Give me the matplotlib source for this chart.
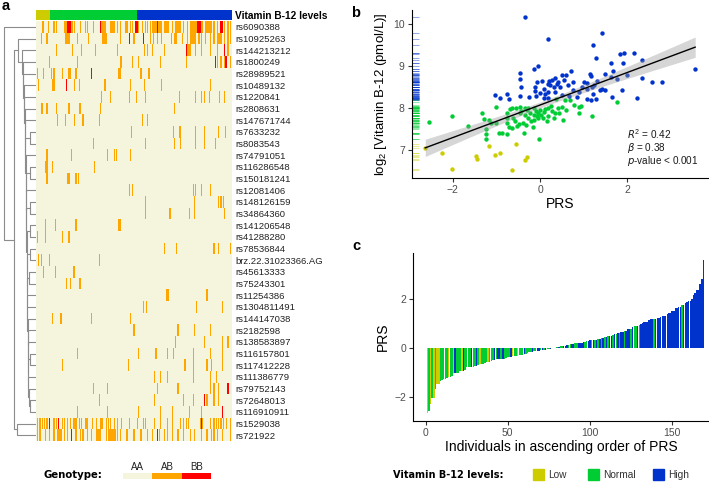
import numpy as np
import matplotlib
matplotlib.use("Agg")
import matplotlib.pyplot as plt
from matplotlib.colors import ListedColormap
from matplotlib.patches import Rectangle

plt.rcParams['font.family'] = ['Liberation Sans', 'DejaVu Sans']
plt.rcParams['mathtext.default'] = 'regular'

# ---- data -------------------------------------------------------------
# panel b: PRS vs log2 vitamin B-12, per group
prs_low = [-2.63, -2.25, -2.01, -1.46, -1.45, -1.18, -1.03, -0.92, -0.65, -0.55, -0.34, -0.31]
b12_low = [7.04, 6.92, 6.55, 6.86, 6.78, 7.10, 6.87, 6.92, 6.52, 7.14, 6.77, 6.84]

prs_normal = [-2.54, -2.02, -1.66, -1.33, -1.29, -1.17, -1.24, -1.24, -1.23, -1.12,
              -1.00, -1.02, -0.93, -0.88, -0.76, -0.76, -0.76, -0.75, -0.72, -0.65,
              -0.64, -0.61, -0.55, -0.52, -0.46, -0.43, -0.39, -0.37, -0.35, -0.34,
              -0.33, -0.27, -0.27, -0.23, -0.17, -0.15, -0.14, -0.14, -0.09, -0.04,
              -0.04, -0.02, 0.00, 0.02, 0.06, 0.19, 0.19, 0.27, 0.32, 0.34,
              0.37, 0.40, 0.44, 0.50, 0.53, 0.58, 0.69, 0.78, 0.88, 0.88,
              0.94, 1.18, 1.75, -0.70, -0.58, -0.48, -0.30, -0.20, -0.08, 0.08,
              0.12, 0.25, 0.15, -0.45, 0.60]
b12_normal = [7.66, 7.82, 7.58, 7.87, 7.74, 7.72, 7.49, 7.37, 7.25, 7.64,
              8.03, 7.64, 7.41, 7.41, 7.87, 7.76, 7.39, 7.64, 7.55, 8.00,
              7.52, 7.76, 8.00, 7.58, 8.03, 7.92, 7.64, 7.40, 8.01, 7.83,
              7.60, 7.75, 8.00, 7.87, 7.55, 7.72, 8.00, 7.83, 7.92, 7.87,
              7.76, 7.25, 7.95, 7.83, 7.76, 7.80, 8.01, 7.92, 7.76, 7.89,
              8.21, 8.01, 7.87, 8.03, 7.71, 8.19, 8.19, 8.08, 8.03, 7.88,
              8.04, 7.82, 8.15, 7.98, 7.70, 7.62, 7.95, 7.68, 7.80, 7.90,
              7.98, 8.05, 7.70, 7.88, 7.95]

prs_high = [-0.35, 0.19, 1.41, 1.22, 1.28, 1.83, 1.91, 2.15, 2.33, 1.63,
            1.89, 3.55, -0.04, -0.15, -0.46, -0.47, -0.44, -0.76, -1.03, -0.92,
            -0.72, -0.46, -0.11, -0.11, -0.09, -0.08, 0.04, 0.08, 0.11, 0.17,
            0.18, 0.19, 0.21, 0.23, 0.28, 0.31, 0.33, 0.34, 0.38, 0.42,
            0.46, 0.50, 0.50, 0.59, 0.64, 0.66, 0.70, 0.75, 0.76, 0.88,
            0.95, 1.01, 1.07, 1.07, 1.07, 1.14, 1.16, 1.16, 1.18, 1.22,
            1.24, 1.28, 1.31, 1.36, 1.41, 1.49, 1.49, 1.62, 1.64, 1.66,
            1.75, 1.87, 1.98, 2.21, 2.33, 2.57, 2.78, -0.25, 0.00, 0.08,
            0.55, 0.84]
b12_high = [10.16, 9.64, 9.79, 9.51, 9.18, 9.28, 9.30, 9.30, 9.14, 9.08,
            9.08, 8.94, 8.99, 8.94, 8.84, 8.69, 8.50, 8.34, 8.30, 8.23,
            8.21, 8.29, 8.49, 8.41, 8.28, 8.62, 8.65, 8.46, 8.34, 8.58,
            8.38, 8.24, 8.65, 8.54, 8.66, 8.50, 8.72, 8.38, 8.58, 8.62,
            8.49, 8.32, 8.78, 8.78, 8.54, 8.28, 8.89, 8.62, 8.42, 8.38,
            8.50, 8.62, 8.60, 8.46, 8.21, 8.81, 8.77, 8.20, 8.49, 8.34,
            8.54, 8.21, 8.64, 8.44, 8.46, 8.42, 8.82, 8.74, 8.26, 8.88,
            8.69, 8.42, 8.78, 8.23, 8.72, 8.61, 8.62, 8.26, 8.35, 8.25,
            8.66, 8.26]

groups = ["Low", "Normal", "High"]
group_colors = ["#CCCC00", "#00CC33", "#0033CC"]

# panel a: SNPs (row order of the clustered heatmap)
snps = ["rs6090388", "rs10925263", "rs144213212", "rs1800249", "rs28989521",
        "rs10489132", "rs1220841", "rs2808631", "rs147671744", "rs7633232",
        "rs8083543", "rs74791051", "rs116286548", "rs150181241", "rs12081406",
        "rs148126159", "rs34864360", "rs141206548", "rs41288280", "rs78536844",
        "brz.22.31023366.AG", "rs45613333", "rs75243301", "rs11254386", "rs1304811491",
        "rs144147038", "rs2182598", "rs138583897", "rs116157801", "rs117412228",
        "rs111386779", "rs79752143", "rs72648013", "rs116910911", "rs1529038",
        "rs721922"]

# non-AA genotypes per SNP, by individual (column) index; "r" marks BB, otherwise AB
genotype_spec = [
    "5 6 10 15 17 24-31 27-29r 33 38 42 44 49 55-59 55r 64-67 70 72 77 78 81 83 85-87r 88 91 94 96 98 "
    "100-108 104r 110-113 114 117 120-124 127 130 133-143 139-141r 146-151 153 156 159-160r 162 165 167",
    "4 9 25-28 35 45 57-60 72 80r 84 92r 98 101 104 108 116 119-121 126 130 133-137 140 142 146 150 153 "
    "156-159 162 165 167",
    "17 31 39 51 70 93 96 100 110 129r 130-133 137 142 150 156 162r 165",
    "11 35 72-73 83 88 107 129 154r 156 159 162 163-164r 167",
    "1 6 13 15 22 28-29 34 47r 71-72 90 97",
    "2 14-15 26r 33 37 59 81 93 108 150",
    "56 64 80 86 94 123 137 142 145 149 158 162",
    "4-5 9 17 28 37-38 55 119",
    "18 25 33 40 54 91 96",
    "82 118 123 124 137 145 157 163",
    "49 94 119 124 137 145 154",
    "9 30 61 67 69 81",
    "8-9 14 50",
    "9 27-28 34 36",
    "80 83 135 137 142 150",
    "94 136 157 159 161",
    "94 115 132 136 162",
    "8 16 34 71 72",
    "1 8 22 28",
    "110 121 153 157 167",
    "2 4 11 54",
    "6 16 32-33",
    "26 29 37-38",
    "112-114 147",
    "92 95 138 160",
    "14 21 47 81",
    "84 122 136 150",
    "120 145 160 165",
    "35 88 103 113 118 135 150 160",
    "22 79 128 135 147 151 160",
    "102 107 113 135 150 155",
    "49 61 104 122 150 153 157 165r",
    "54 102 127 135 145r 147 153 157",
    "35 61 88 107 117 132 142 160r",
    "1 3 5 7 9 11r 15 17 19r 22 24 27 29 32-34 37 39 42-44 48 52 55-57 60 62 64 67 70 73 80 87 92 94 "
    "102 107 113 117 124 127 129 131 141-143 142r 150 153 155 157 159 161 164 167",
    "1 3 8 11 15 18-21 24 27 30r 34 38 40 44 47 52-55 60 62-68 70 72 78 84 90 96 100 104r 106 110 113 "
    "117 122 127 133 136 142 147 151 153 156 160 167",
]

# row dendrogram: (child a, child b, merge height); new clusters get ids 36, 37, ...
merges = [
    (9, 10, 6.0), (12, 13, 6.0), (15, 16, 6.0), (17, 18, 6.5), (19, 20, 6.5),
    (21, 22, 7.0), (28, 29, 6.0), (32, 33, 6.0), (31, 43, 7.4), (30, 44, 7.6),
    (42, 45, 7.8), (27, 46, 8.0), (26, 47, 8.2), (25, 48, 8.4), (24, 49, 8.6),
    (23, 50, 8.8), (41, 51, 9.0), (40, 52, 9.2), (39, 53, 9.4), (38, 54, 9.6),
    (14, 55, 9.8), (37, 56, 10.0), (11, 57, 10.3), (36, 58, 10.6), (8, 59, 11.0),
    (7, 60, 11.4), (6, 61, 11.8), (5, 62, 12.2), (4, 63, 12.6), (3, 64, 13.0),
    (2, 65, 14.5), (1, 66, 17.7), (34, 35, 19.3), (67, 68, 22.0), (0, 69, 32.0),
]

genotypes = ["AA", "AB", "BB"]
genotype_colors = ["#F5F4DC", "#FFA500", "#FF0000"]

# ---- layout helpers ---------------------------------------------------
W, H = 709, 482
fig = plt.figure(figsize=(W / 100, H / 100), dpi=100)


def box(x0, y0, x1, y1):
    # pixel box (top-left origin) -> figure rect
    return [x0 / W, 1 - y1 / H, (x1 - x0) / W, (y1 - y0) / H]


def parse_row(spec, n):
    row = np.zeros(n, dtype=int)
    for tok in spec.split():
        val = 2 if tok.endswith("r") else 1
        tok = tok.rstrip("r")
        if "-" in tok:
            a, b = tok.split("-")
        else:
            a = b = tok
        row[int(a):min(int(b), n - 1) + 1] = val
    return row


n_low, n_normal, n_high = len(prs_low), len(prs_normal), len(prs_high)
n_ind = n_low + n_normal + n_high
geno = np.array([parse_row(s, n_ind) for s in genotype_spec])
group_code = np.array([0] * n_low + [1] * n_normal + [2] * n_high)

# ---- panel a ----------------------------------------------------------
ax_top = fig.add_axes(box(36, 10, 231.7, 20))
ax_top.imshow(group_code[None, :], cmap=ListedColormap(group_colors), vmin=0, vmax=2,
              aspect="auto", interpolation="nearest")
ax_top.set_xticks([])
ax_top.yaxis.tick_right()
ax_top.set_yticks([0])
ax_top.set_yticklabels(["Vitamin B-12 levels"], fontsize=7.3, fontweight="bold")
ax_top.tick_params(axis="y", length=0, pad=2.5)
for s in ax_top.spines.values():
    s.set_visible(False)

ax_hm = fig.add_axes(box(36, 21, 231.7, 441))
ax_hm.imshow(geno, cmap=ListedColormap(genotype_colors), vmin=0, vmax=2,
             aspect="auto", interpolation="nearest")
ax_hm.set_xticks([])
ax_hm.yaxis.tick_right()
ax_hm.set_yticks(range(len(snps)))
ax_hm.set_yticklabels(snps, fontsize=6.8, color="#222222")
ax_hm.tick_params(axis="y", length=0, pad=2.5)
for s in ax_hm.spines.values():
    s.set_visible(False)

ax_den = fig.add_axes(box(0, 21, 36, 441))
pos = {i: (i + 0.5, 0.0) for i in range(len(snps))}
for k, (a, b, h) in enumerate(merges):
    ya, ha = pos[a]
    yb, hb = pos[b]
    ax_den.plot([ha, h, h, hb], [ya, ya, yb, yb], color="#8c8c8c", lw=0.8)
    pos[len(snps) + k] = ((ya + yb) / 2, h)
ax_den.set_xlim(36, 0)
ax_den.set_ylim(len(snps), 0)
ax_den.axis("off")

# genotype legend
fig.text(43 / W, 1 - 475 / H, "Genotype:", family="DejaVu Sans", fontweight="bold",
         fontsize=7.3, va="center", ha="left")
ax_gl = fig.add_axes(box(123, 473, 211, 479))
ax_gl.imshow([[0, 1, 2]], cmap=ListedColormap(genotype_colors), vmin=0, vmax=2, aspect="auto")
ax_gl.xaxis.tick_top()
ax_gl.set_xticks(range(3))
ax_gl.set_xticklabels(genotypes, fontsize=7, color="#222222")
ax_gl.tick_params(axis="x", length=0, pad=1)
ax_gl.set_yticks([])
for s in ax_gl.spines.values():
    s.set_visible(False)


def style_axes(ax):
    ax.spines["top"].set_visible(False)
    ax.spines["right"].set_visible(False)
    for side in ["left", "bottom"]:
        ax.spines[side].set_linewidth(0.8)
        ax.spines[side].set_color("black")
    ax.tick_params(length=3, width=0.8, color="#333333", labelsize=7.5,
                   labelcolor="#4D4D4D", pad=2)


# ---- panel b ----------------------------------------------------------
ax_b = fig.add_axes(box(411.7, 9.75, 708.7, 177.7))
xs_groups = [prs_low, prs_normal, prs_high]
ys_groups = [b12_low, b12_normal, b12_high]
for xg, yg, c in zip(xs_groups, ys_groups, group_colors):
    ax_b.scatter(xg, yg, s=10, color=c, linewidths=0, zorder=2)
    ax_b.hlines(yg, 0, 0.025, transform=ax_b.get_yaxis_transform(), colors=c,
                lw=0.6, alpha=0.5)

x_all = np.array(prs_low + prs_normal + prs_high)
y_all = np.array(b12_low + b12_normal + b12_high)
slope, intercept = np.polyfit(x_all, y_all, 1)
xf = np.linspace(x_all.min(), x_all.max(), 100)
yf = intercept + slope * xf
resid = y_all - (intercept + slope * x_all)
s_err = np.sqrt(np.sum(resid ** 2) / (len(x_all) - 2))
se = s_err * np.sqrt(1 / len(x_all) + (xf - x_all.mean()) ** 2 / np.sum((x_all - x_all.mean()) ** 2))
ax_b.fill_between(xf, yf - 1.974 * se, yf + 1.974 * se, color="#999999", alpha=0.4, lw=0, zorder=3)
ax_b.plot(xf, yf, color="black", lw=1, zorder=4)

ax_b.set_xlim(-2.94, 3.86)
ax_b.set_ylim(6.34, 10.34)
ax_b.set_xticks([-2, 0, 2])
ax_b.set_xticklabels(["\u22122", "0", "2"])
ax_b.set_yticks([7, 8, 9, 10])
style_axes(ax_b)
ax_b.set_xlabel("PRS", fontsize=10, labelpad=2)
ax_b.set_ylabel("log$_2$ [Vitamin B-12 (pmol/L)]", fontsize=9.5, labelpad=3)

ax_b.text(2.0, 7.37, r"$\mathit{R}^2$ = 0.42", fontsize=7.2, va="center", color="#1a1a1a")
ax_b.text(2.0, 7.05, r"$\mathit{\beta}$ = 0.38", fontsize=7.2, va="center", color="#1a1a1a")
ax_b.text(2.0, 6.73, r"$\mathit{p}$-value < 0.001", fontsize=7.2, va="center", color="#1a1a1a")

# ---- panel c ----------------------------------------------------------
ax_c = fig.add_axes(box(413.3, 253, 709, 420.7))
bar_colors_all = np.array([group_colors[0]] * n_low + [group_colors[1]] * n_normal
                          + [group_colors[2]] * n_high)
order = np.argsort(x_all, kind="stable")
ax_c.bar(np.arange(1, n_ind + 1), x_all[order], width=0.9, color=bar_colors_all[order], linewidth=0)
ax_c.set_xlim(-7.5, 172.4)
ax_c.set_ylim(-2.94, 3.84)
ax_c.set_xticks([0, 50, 100, 150])
ax_c.set_yticks([-2, 0, 2])
ax_c.set_yticklabels(["\u22122", "0", "2"])
style_axes(ax_c)
ax_c.set_xlabel("Individuals in ascending order of PRS", fontsize=10, labelpad=2)
ax_c.set_ylabel("PRS", fontsize=10, labelpad=3)

# vitamin legend
fig.text(393 / W, 1 - 475 / H, "Vitamin B-12 levels:", family="DejaVu Sans", fontweight="bold",
         fontsize=7, va="center", ha="left")
for lbl, c, x0 in zip(groups, group_colors, [533, 588, 653]):
    fig.patches.append(Rectangle((x0 / W, 1 - 480 / H), 11 / W, 11 / H, color=c,
                                 transform=fig.transFigure, figure=fig))
    fig.text((x0 + 15) / W, 1 - 475 / H, lbl, fontsize=7.3, va="center", ha="left", color="#333333")

# panel letters
fig.text(2 / W, 1 - 10 / H, "a", fontsize=10.5, fontweight="bold", va="baseline")
fig.text(351 / W, 1 - 17 / H, "b", fontsize=10.5, fontweight="bold", va="baseline")
fig.text(352 / W, 1 - 250 / H, "c", fontsize=10.5, fontweight="bold", va="baseline")

fig.savefig("out.png", dpi=100)
